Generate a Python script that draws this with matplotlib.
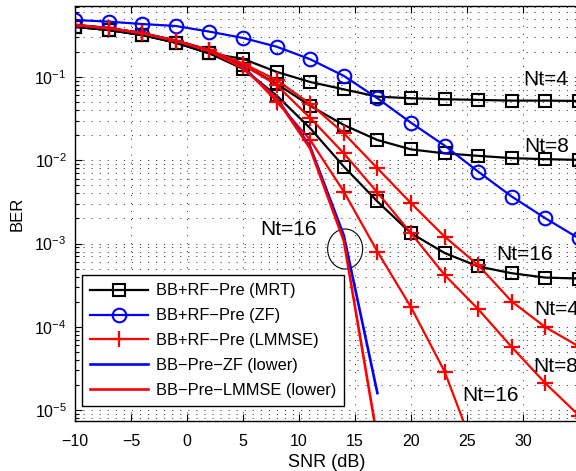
import matplotlib
matplotlib.use("Agg")
import matplotlib.pyplot as plt
from matplotlib.patches import Ellipse
from matplotlib.ticker import LogLocator

plt.rcParams['font.family'] = ['Liberation Sans', 'DejaVu Sans']
plt.rcParams['mathtext.fontset'] = 'custom'
plt.rcParams['mathtext.rm'] = 'Liberation Sans'
plt.rcParams['mathtext.it'] = 'Liberation Sans:italic'
plt.rcParams['lines.scale_dashes'] = False

# SNR points (dB)
snr = [-10, -7, -4, -1, 2, 5, 8, 11, 14, 17, 20, 23, 26, 29, 32, 35]

# BB+RF precoding, MRT
mrt_nt4 = [0.40, 0.366, 0.319, 0.258, 0.192, 0.165, 0.115, 0.087, 0.071, 0.058,
           0.0555, 0.054, 0.053, 0.052, 0.052, 0.0515]
mrt_nt8 = [0.40, 0.366, 0.319, 0.258, 0.192, 0.14, 0.083, 0.045, 0.0265, 0.0175,
           0.0135, 0.0121, 0.0113, 0.0106, 0.0103, 0.0101]
mrt_nt16 = [0.40, 0.366, 0.319, 0.258, 0.192, 0.125, 0.06, 0.0242, 0.0084, 0.0032,
            0.00133, 0.00077, 0.00053, 0.00044, 0.00039, 0.00038]

# BB+RF precoding, ZF
zf = [0.483, 0.461, 0.432, 0.409, 0.350, 0.294, 0.231, 0.163, 0.103, 0.0555,
      0.0282, 0.0150, 0.0073, 0.00366, 0.00201, 0.00115]

# BB+RF precoding, LMMSE
lmmse_nt4 = [0.42, 0.385, 0.335, 0.273, 0.211, 0.145, 0.092, 0.0474, 0.0211, 0.0080,
             0.00305, 0.00121, 0.00055, 0.000201, 9.9e-5, 5.8e-5]
lmmse_nt8 = [0.42, 0.385, 0.335, 0.273, 0.211, 0.140, 0.080, 0.0322, 0.0121, 0.0041,
             0.00133, 0.00042, 0.000163, 5.7e-5, 2.1e-5, 8.6e-6]
snr_nt16 = [-10, -7, -4, -1, 2, 5, 8, 11, 14, 17, 20, 23, 26]
lmmse_nt16 = [0.42, 0.385, 0.335, 0.273, 0.211, 0.135, 0.0506, 0.0175, 0.0042, 0.0008,
              0.000172, 2.9e-5, 2.5e-6]

# lower bounds (BB precoding only)
snr_low = [-10, -7, -4, -1, 2, 5, 8, 11, 14, 17]
low_zf = [0.42, 0.385, 0.335, 0.272, 0.205, 0.130, 0.056, 0.0145, 1.25e-3, 1.6e-5]
low_lmmse = [0.42, 0.385, 0.335, 0.272, 0.205, 0.128, 0.055, 0.0138, 1.08e-3, 4.5e-6]

fig = plt.figure(figsize=(5.76, 4.71), dpi=100)
ax = fig.add_axes([75/576, 50/471, 504/576, 415/471])

lw = 1.6
sq = dict(marker='s', ms=8.8, mfc='none', mew=1.5)
ci = dict(marker='o', ms=9.8, mfc='none', mew=1.5)
pl = dict(marker='+', ms=11, mew=1.6)

ax.semilogy(snr, mrt_nt4, color='k', lw=lw, label='BB+RF\u2212Pre (MRT)', **sq)
ax.semilogy(snr, mrt_nt8, color='k', lw=lw, **sq)
ax.semilogy(snr, mrt_nt16, color='k', lw=lw, **sq)
ax.semilogy(snr, zf, color='#0000ff', lw=lw, label='BB+RF\u2212Pre (ZF)', **ci)
ax.semilogy(snr, lmmse_nt4, color='#ff0000', lw=lw, label='BB+RF\u2212Pre (LMMSE)', **pl)
ax.semilogy(snr, lmmse_nt8, color='#ff0000', lw=lw, **pl)
ax.semilogy(snr_nt16, lmmse_nt16, color='#ff0000', lw=lw, **pl)
ax.semilogy(snr_low, low_zf, color='#0000ff', lw=lw + 0.3, label='BB\u2212Pre\u2212ZF (lower)')
ax.semilogy(snr_low, low_lmmse, color='#ff0000', lw=lw + 0.3, label='BB\u2212Pre\u2212LMMSE (lower)')

ax.set_xlim(-10, 35)
ax.set_ylim(7.4e-6, 0.711)
ax.set_xticks([-10, -5, 0, 5, 10, 15, 20, 25, 30])
ax.xaxis.set_ticklabels(['\u221210', '\u22125', '0', '5', '10', '15', '20', '25', '30'])
ax.yaxis.set_major_locator(LogLocator(base=10, numticks=10))
ax.yaxis.set_minor_locator(LogLocator(base=10, subs=range(2, 10), numticks=20))

dots = (0, (0.8, 5))
ax.grid(which='major', axis='both', color='0.25', lw=0.7, linestyle=dots)
ax.grid(which='minor', axis='y', color='0.25', lw=0.7, linestyle=dots)
ax.tick_params(which='both', direction='in', top=True, right=False, labelsize=11.5,
               width=0.8)
ax.tick_params(axis='x', pad=9)
ax.tick_params(axis='y', pad=6)
ax.tick_params(which='major', length=5)
ax.tick_params(which='minor', length=3)
ax.spines['right'].set_visible(False)
for s in ['left', 'top', 'bottom']:
    ax.spines[s].set_linewidth(1.0)

ax.set_xlabel('SNR (dB)', fontsize=13, labelpad=4)
ax.set_ylabel('BER', fontsize=12, labelpad=7)

tfs = 15
ax.text(30.0, 0.092, 'Nt=4', fontsize=tfs, ha='left', va='center')
ax.text(30.1, 0.0145, 'Nt=8', fontsize=tfs, ha='left', va='center')
ax.text(6.5, 1.46e-3, 'Nt=16', fontsize=tfs, ha='left', va='center')
ax.text(27.6, 7.3e-4, 'Nt=16', fontsize=tfs, ha='left', va='center')
ax.text(31.0, 1.6e-4, 'Nt=4', fontsize=tfs, ha='left', va='center')
ax.text(30.9, 3.3e-5, 'Nt=8', fontsize=tfs, ha='left', va='center')
ax.text(24.6, 1.5e-5, 'Nt=16', fontsize=tfs, ha='left', va='center')

ax.add_patch(Ellipse((0.536, 0.4145), 35/504, 40/415, transform=ax.transAxes,
                     fill=False, ec='k', lw=0.8))

leg = ax.legend(loc='lower left', bbox_to_anchor=(7/504, 15/415), borderaxespad=0,
                fontsize=11.8, handlelength=3.5, handletextpad=0.5, labelspacing=0.6,
                borderpad=0.5, fancybox=False, framealpha=1, edgecolor='k')
leg.get_frame().set_linewidth(1.0)

fig.savefig('out.png', dpi=100)
